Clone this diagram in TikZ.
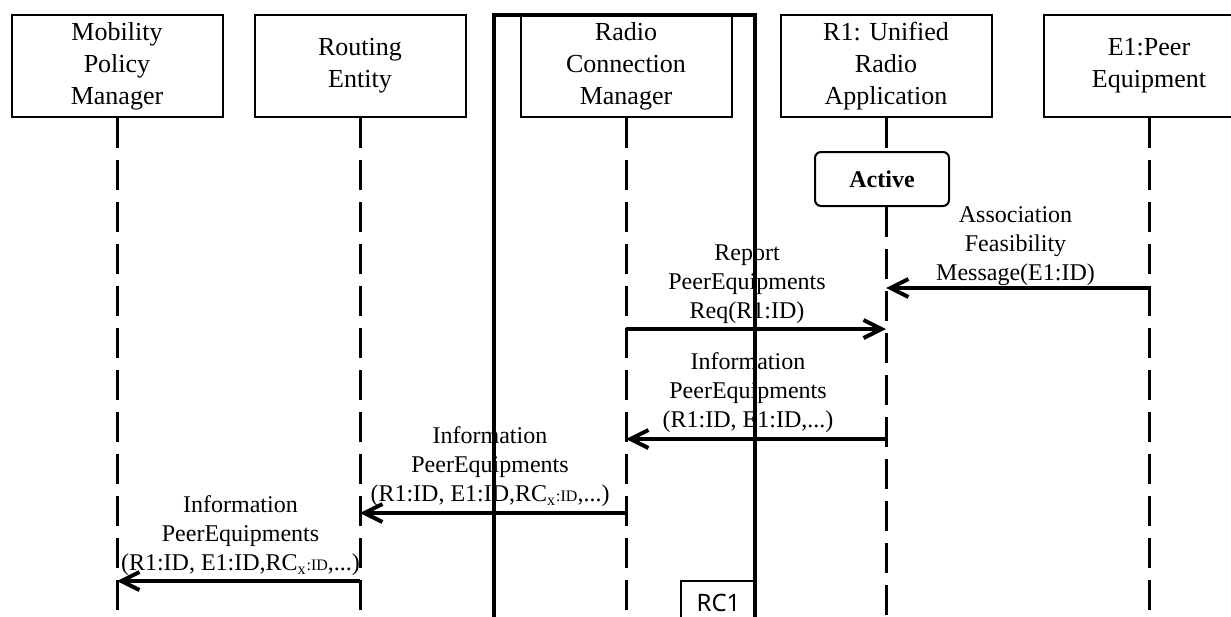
\documentclass[tikz,border=0pt]{standalone}
\usepackage{fontspec}
\setmainfont{Liberation Serif}
\newfontfamily\rcfont{Noto Sans}
\usetikzlibrary{arrows.meta}

\begin{document}
\begin{tikzpicture}[x=0.5pt,y=-0.5pt,
	obj/.style={draw, line width=1pt, minimum width=105.5pt, minimum height=51pt, inner sep=0pt, align=center, font=\fontsize{13}{16}\selectfont},
	life/.style={line width=1.5pt, dash pattern=on 15pt off 6pt},
	msg/.style={line width=2pt, -{Straight Barb[length=9pt,width=9pt]}},
	lbl/.style={above, inner sep=1pt, align=center, font=\fontsize{12}{14.5}\selectfont}]
			\useasboundingbox (0,0) rectangle (1231,616);
			\clip (0,0) rectangle (1231,616);
			\coordinate (bot) at (0,640);
			\node[obj] (mpm) at (117,66) {Mobility\\Policy\\Manager};
			\node[obj] (re) at (360,66) {Routing\\Entity};
			\node[obj] (rcm) at (626,66) {Radio\\Connection\\Manager};
			\node[obj] (ura) at (886,66) {R1: Unified\\Radio\\Application};
			\node[obj] (peer) at (1149,66) {E1:Peer\\Equipment};
			\node[draw, line width=1pt, rounded corners=3pt, minimum width=67pt, minimum height=27pt, font=\bfseries\fontsize{12}{14}\selectfont] (act) at (882,179) {Active};
			\draw[line width=2pt] (494,15) rectangle (755,640);
			\node[draw, line width=1pt, anchor=north west, minimum width=37.5pt, minimum height=22pt, font=\rcfont\fontsize{12}{14}\selectfont] (rc) at (680,580) {RC1};
			\draw[life] (mpm.south) -- (mpm |- bot);
			\draw[life] (re.south) -- (re |- bot);
			\draw[life] (rcm.south) -- (rcm |- bot);
			\draw[life] (ura.south) -- (ura |- act.north);
			\draw[life] (ura |- act.south) -- (ura |- bot);
			\draw[life] (peer.south) -- (peer |- bot);
			\draw[msg] (peer |- 0,288) -- node[lbl, xshift=-1pt, yshift=-1pt] {Association\\Feasibility\\Message(E1:ID)} (ura |- 0,288);
			\draw[msg] (rcm |- 0,329) -- node[lbl, xshift=-4.5pt, yshift=0.5pt] {Report\\PeerEquipments\\Req(R1:ID)} (ura |- 0,329);
			\draw[msg] (ura |- 0,439) -- node[lbl, xshift=-4pt, yshift=1pt] {Information\\PeerEquipments\\(R1:ID, E1:ID,...)} (rcm |- 0,439);
			\draw[msg] (rcm |- 0,513) -- node[lbl, xshift=-1.5pt, yshift=1pt] {Information\\PeerEquipments\\(R1:ID, E1:ID,RC\textsubscript{x}{\footnotesize:ID},...)} (re |- 0,513);
			\draw[msg] (re |- 0,581) -- node[lbl, xshift=1pt, yshift=0.5pt] {Information\\PeerEquipments\\(R1:ID, E1:ID,RC\textsubscript{x}{\footnotesize:ID},...)} (mpm |- 0,581);
		\end{tikzpicture}
\end{document}
